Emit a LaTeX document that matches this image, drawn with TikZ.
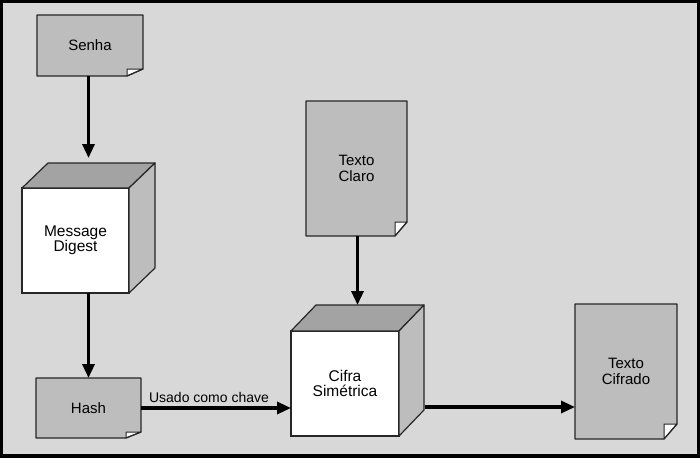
\documentclass[tikz,border=0pt]{standalone}
\usepackage{fontspec}
\setmainfont{Liberation Sans}
\usetikzlibrary{arrows.meta,calc}
\definecolor{bggray}{HTML}{D8D8D8}
\definecolor{docgray}{HTML}{BDBDBD}
\definecolor{topgray}{HTML}{A3A3A3}
\definecolor{sidegray}{HTML}{BDBDBD}
\definecolor{linec}{HTML}{262626}
\newcommand\docdeco[3]{%
  \fill[bggray] ([xshift=-#2]#1.south east) -- (#1.south east) -- ([yshift=#3]#1.south east) -- cycle;
  \filldraw[fill=white, draw=linec, line width=1pt, line join=round] ([xshift=-#2]#1.south east) -- ([xshift=-#2,yshift=#3]#1.south east) -- ([yshift=#3]#1.south east) -- cycle;
  \draw[linec, line width=1.2pt, line join=round] (#1.north west) -- (#1.north east) -- ([yshift=#3]#1.south east) -- ([xshift=-#2]#1.south east) -- (#1.south west) -- cycle;}
\newcommand\cubedeco[3]{%
  \filldraw[fill=topgray, draw=linec, line width=1.2pt, line join=round] (#1.north west) -- ([shift={(#2,#3)}]#1.north west) -- ([shift={(#2,#3)}]#1.north east) -- (#1.north east) -- cycle;
  \filldraw[fill=sidegray, draw=linec, line width=1.2pt, line join=round] (#1.north east) -- ([shift={(#2,#3)}]#1.north east) -- ([shift={(#2,#3)}]#1.south east) -- (#1.south east) -- cycle;}
\begin{document}
\begin{tikzpicture}[x=1pt,y=-1pt,
  docbox/.style={fill=docgray, draw=none, inner sep=0pt, outer sep=0pt, align=center,
    font=\fontsize{15}{15.5}\selectfont},
  cubefront/.style={fill=white, draw=linec, line width=1.2pt, inner sep=0pt, outer sep=0pt, align=center,
    font=\fontsize{15.5}{15.5}\selectfont},
  lbl/.style={inner sep=0pt, font=\fontsize{14}{15}\selectfont},
  arr/.style={line width=3.2pt, draw=black, -{Triangle[length=14pt,width=12pt]}}]
\useasboundingbox (0,0) rectangle (700,458);
\fill[black] (0,0) rectangle (700,458);
\fill[bggray] (3,3) rectangle (697,454);

% documents
\node[docbox, minimum width=106pt, minimum height=61pt] (senha) at (90,45.5) {Senha};
\docdeco{senha}{16pt}{7pt}
\node[docbox, minimum width=105pt, minimum height=60pt] (hash) at (88.5,408) {Hash};
\docdeco{hash}{15pt}{6pt}
\node[docbox, minimum width=101pt, minimum height=135pt] (tcl) at (356.5,168.5) {Texto\\Claro};
\docdeco{tcl}{12pt}{14pt}
\node[docbox, minimum width=102pt, minimum height=135pt] (tcf) at (626,371.5) {Texto\\Cifrado};
\docdeco{tcf}{13pt}{15pt}

% cubes
\node[cubefront, minimum width=107pt, minimum height=105pt] (md) at (75.5,240.5) {Message\\Digest};
\cubedeco{md}{26pt}{25pt}
\node[cubefront, minimum width=108pt, minimum height=105pt] (cs) at (345,383.5) {Cifra\\Simétrica};
\cubedeco{cs}{25pt}{26pt}

% connectors
\coordinate (mdin) at ($(hash.north |- md.north)+(0pt,30pt)$);
\draw[arr] (hash.north |- senha.south) -- (mdin);
\draw[arr] (hash.north |- md.south) -- (hash.north);
\draw[arr] (hash.east) -- (hash.east -| cs.west);
\node[lbl, anchor=base] (uso) at (209,402) {Usado como chave};
\coordinate (csin) at ($(tcl.south |- cs.north)+(1pt,26pt)$);
\draw[arr] (tcl.south -| csin) -- (csin);
\coordinate (csout) at ($(cs.south east)+(26pt,29pt)$);
\draw[arr] (csout) -- (csout -| tcf.west);
\end{tikzpicture}
\end{document}
